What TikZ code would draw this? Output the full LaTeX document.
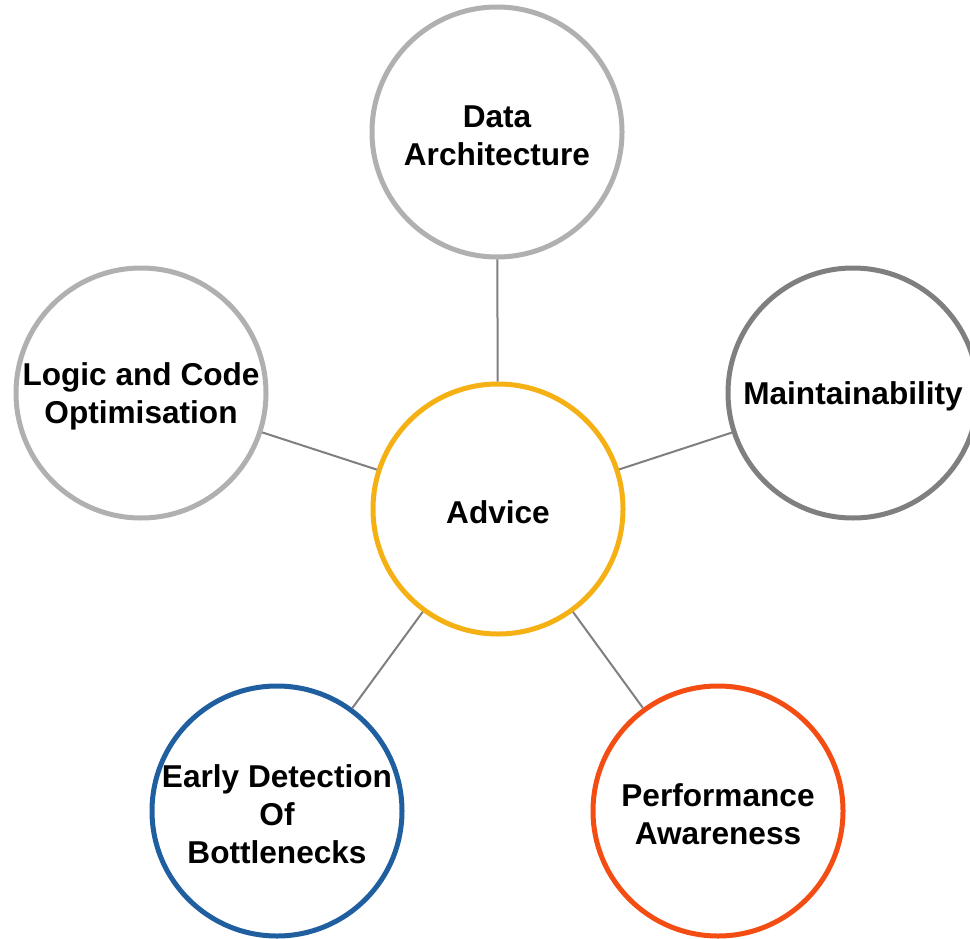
\documentclass[tikz,border=0pt]{standalone}
\usepackage{fontspec}
\setmainfont{Liberation Sans}
\usetikzlibrary{calc}

\definecolor{lightgrey}{HTML}{B0B0B0}
\definecolor{darkgrey}{HTML}{7F7F7F}
\definecolor{gold}{HTML}{F5B014}
\definecolor{navy}{HTML}{1F5FA0}
\definecolor{redorange}{HTML}{F44D14}

\tikzset{
  topic/.style={circle, draw, line width=3.75pt, fill=white, inner sep=0pt,
    minimum size=187.5pt},
  caption/.style={align=center, text=black, yshift=-2.5pt,
    font=\fontsize{23.7}{28.5}\selectfont\bfseries},
  spoke/.style={darkgrey, line width=1.5pt}
}

\begin{document}
\begin{tikzpicture}[x=0.75pt, y=-0.75pt]
\useasboundingbox (0,0) rectangle (970,938);
\node[topic, draw=gold,      label={[caption]center:Advice}] (advice) at (498,509) {};
\node[topic, draw=lightgrey, label={[caption]center:Data\\Architecture}] (data) at (497,132) {};
\node[topic, draw=lightgrey, label={[caption]center:Logic and Code\\Optimisation}] (logic) at (141,393) {};
\node[topic, draw=darkgrey,  label={[caption]center:Maintainability}] (maint) at (853,393) {};
\node[topic, draw=navy,      label={[caption]center:Early Detection\\Of\\Bottlenecks}] (early) at (277,811) {};
\node[topic, draw=redorange, label={[caption]center:Performance\\Awareness}] (perf) at (718,811) {};
\foreach \t in {data, logic, maint, early, perf}{
 \draw[spoke] (advice) -- (\t);
}
\end{tikzpicture}
\end{document}
